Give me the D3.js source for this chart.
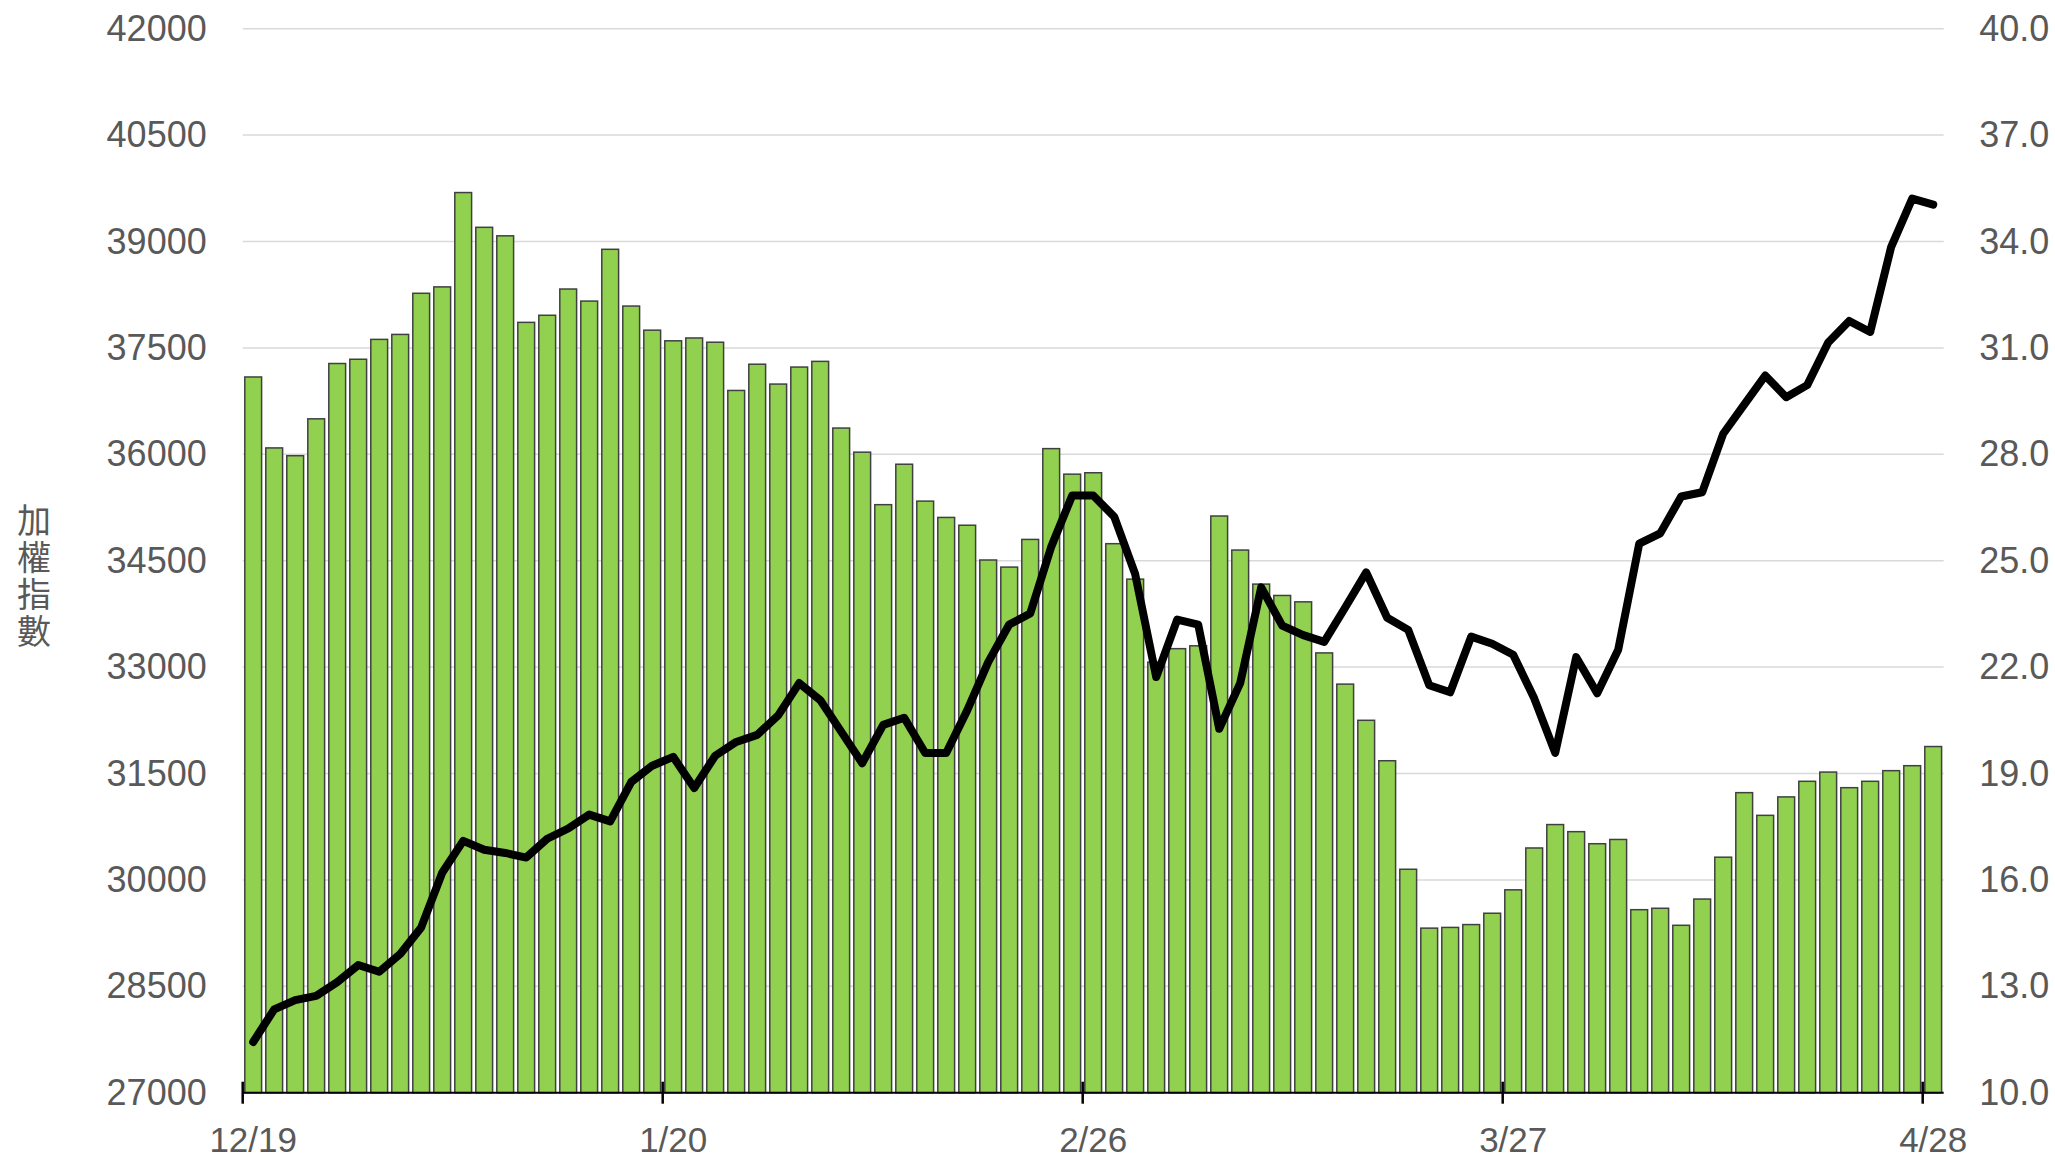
<!DOCTYPE html>
<html>
<head>
<meta charset="utf-8">
<script src="https://cdn.jsdelivr.net/npm/d3@7"></script>
<style>
  body { margin: 0; background: #fff; }
  text { font-family: "Liberation Sans", Arial, sans-serif; fill: #595959; }
</style>
</head>
<body>
<svg id="chart"></svg>
<script>
// daily bars (left axis) and line (right axis), 81 trading days
const barValues = [
  37090, 36090, 35980, 36500, 37280, 37340, 37620, 37690, 38270, 38360,
  39690, 39200, 39080, 37860, 37960, 38330, 38160, 38890, 38090, 37750,
  37600, 37640, 37580, 36900, 37270, 36990, 37230, 37310, 36370, 36030,
  35290, 35860, 35340, 35110, 35000, 34510, 34410, 34800, 36080, 35720,
  35740, 34740, 34240, 33070, 33260, 33300, 35130, 34650, 34170, 34010,
  33920, 33200, 32760, 32250, 31680, 30150, 29320, 29330, 29370, 29530,
  29860, 30450, 30780, 30680, 30510, 30570, 29580, 29600, 29360, 29730,
  30320, 31230, 30910, 31170, 31390, 31520, 31300, 31390, 31540, 31610,
  31880
];
const lineValues = [
  11.43, 12.35, 12.61, 12.73, 13.12, 13.60, 13.41, 13.91, 14.66, 16.20,
  17.10, 16.85, 16.76, 16.63, 17.16, 17.45, 17.84, 17.65, 18.76, 19.22,
  19.47, 18.59, 19.50, 19.89, 20.09, 20.64, 21.55, 21.07, 20.18, 19.29,
  20.37, 20.57, 19.58, 19.58, 20.78, 22.14, 23.20, 23.51, 25.39, 26.84,
  26.84, 26.24, 24.62, 21.72, 23.34, 23.20, 20.26, 21.55, 24.25, 23.17,
  22.90, 22.71, 23.68, 24.67, 23.39, 23.05, 21.49, 21.29, 22.86, 22.66,
  22.35, 21.12, 19.58, 22.28, 21.26, 22.49, 25.48, 25.77, 26.81, 26.93,
  28.58, 29.40, 30.22, 29.61, 29.95, 31.15, 31.76, 31.45, 33.85, 35.21,
  35.04
];
// only every 20th day is labelled on the x axis
const tickLabels = ["12/19", "1/20", "2/26", "3/27", "4/28"];
const tickEvery = 20;
const leftTicks = [27000, 28500, 30000, 31500, 33000, 34500, 36000, 37500, 39000, 40500, 42000];
const rightTicks = [10, 13, 16, 19, 22, 25, 28, 31, 34, 37, 40];
const yTitle = "加權指數";

const W = 2055, H = 1158;
const margin = { top: 28.7, right: 111.3, bottom: 65.3, left: 242.7 };
const width = W - margin.left - margin.right,
      height = H - margin.top - margin.bottom;

const svg = d3.select("#chart").attr("width", W).attr("height", H);
const g = svg.append("g").attr("transform", `translate(${margin.left},${margin.top})`);

const idx = d3.range(barValues.length);

const x = d3.scaleBand()
            .domain(idx)
            .range([0, width])
            .paddingInner(0.2)
            .paddingOuter(0.1);

const step = x.step();
const bandStart = i => x(i) - x.paddingOuter() * step;

const yL = d3.scaleLinear().domain([27000, 42000]).range([height, 0]);
const yR = d3.scaleLinear().domain([10, 40]).range([height, 0]);

// gridlines
g.append("g")
 .selectAll("line")
 .data(leftTicks.slice(1))
 .enter().append("line")
 .attr("x1", 0).attr("x2", width)
 .attr("y1", d => yL(d)).attr("y2", d => yL(d))
 .attr("stroke", "#d9d9d9")
 .attr("stroke-width", 1.5);

// left axis labels
const leftAxis = g.append("g")
  .call(d3.axisLeft(yL).tickValues(leftTicks).tickSize(0).tickPadding(36).tickFormat(d3.format("d")));
leftAxis.select(".domain").remove();
leftAxis.selectAll("text").style("font-size", "36px").attr("fill", "#595959")
  .style("font-family", "'Liberation Sans', Arial, sans-serif");

// right axis labels
const rightAxis = g.append("g")
  .attr("transform", `translate(${width},0)`)
  .call(d3.axisRight(yR).tickValues(rightTicks).tickSize(0).tickPadding(35.6).tickFormat(d3.format(".1f")));
rightAxis.select(".domain").remove();
rightAxis.selectAll("text").style("font-size", "36px").attr("fill", "#595959")
  .style("font-family", "'Liberation Sans', Arial, sans-serif");

// bars
g.append("g")
 .selectAll("rect")
 .data(idx)
 .enter().append("rect")
 .attr("x", i => x(i))
 .attr("y", i => yL(barValues[i]))
 .attr("width", x.bandwidth())
 .attr("height", i => height - yL(barValues[i]))
 .attr("fill", "#92d050")
 .attr("stroke", "#404040")
 .attr("stroke-width", 1.5);

// x axis baseline and ticks
g.append("line")
 .attr("x1", 0).attr("x2", width)
 .attr("y1", height).attr("y2", height)
 .attr("stroke", "#000")
 .attr("stroke-width", 2);

const tickIdx = tickLabels.map((t, k) => k * tickEvery);

g.append("g")
 .selectAll("line")
 .data(tickIdx)
 .enter().append("line")
 .attr("x1", i => bandStart(i)).attr("x2", i => bandStart(i))
 .attr("y1", height - 11).attr("y2", height + 11)
 .attr("stroke", "#000")
 .attr("stroke-width", 2.5);

g.append("g")
 .selectAll("text")
 .data(tickIdx)
 .enter().append("text")
 .attr("x", i => x(i) + x.bandwidth() / 2)
 .attr("y", height + 59.5)
 .attr("text-anchor", "middle")
 .style("font-size", "35px")
 .text((i, k) => tickLabels[k]);

// line series
const line = d3.line()
               .x(i => x(i) + x.bandwidth() / 2)
               .y(i => yR(lineValues[i]));

g.append("path")
 .datum(idx)
 .attr("fill", "none")
 .attr("stroke", "#000")
 .attr("stroke-width", 8)
 .attr("stroke-linejoin", "round")
 .attr("stroke-linecap", "round")
 .attr("d", line);

// y axis title, characters stacked vertically
svg.append("g")
  .selectAll("text")
  .data(Array.from(yTitle))
  .enter().append("text")
  .attr("x", 34)
  .attr("y", (d, k) => 533 + k * 37)
  .attr("text-anchor", "middle")
  .style("font-family", "'Noto Sans CJK TC', sans-serif")
  .style("font-size", "34px")
  .text(d => d);
</script>
</body>
</html>
